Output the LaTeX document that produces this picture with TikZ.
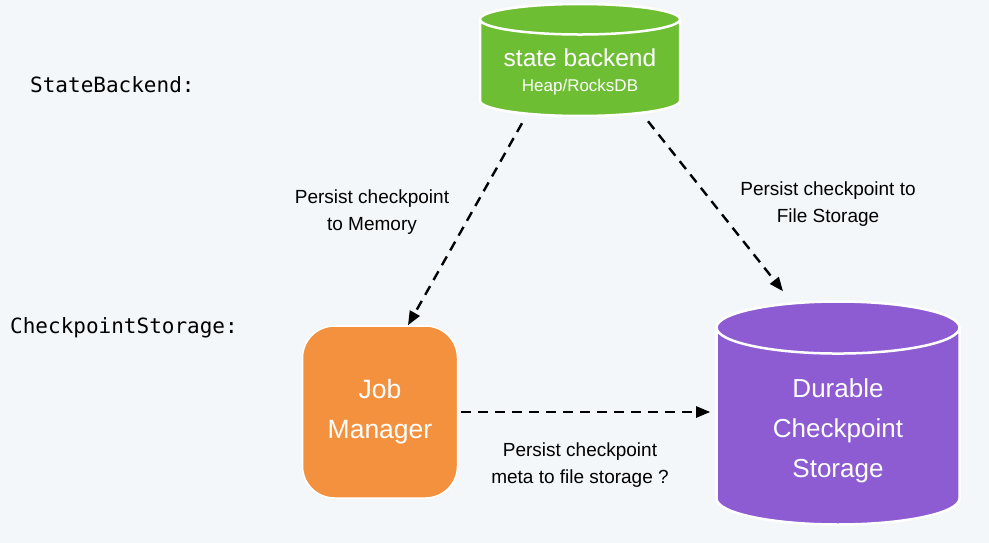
\documentclass[tikz,border=0pt]{standalone}
\usepackage{fontspec}
\setmainfont{Liberation Sans}
\setmonofont{DejaVu Sans Mono}
\usetikzlibrary{shapes.geometric,arrows.meta}

\definecolor{bgcol}{RGB}{244,247,250}
\definecolor{sbgreen}{RGB}{110,190,52}
\definecolor{jmorange}{RGB}{243,145,62}
\definecolor{dcspurple}{RGB}{141,92,210}

\tikzset{
  store/.style={cylinder, shape border rotate=90, cylinder uses custom fill,
    draw=white, line width=2.5pt, text=white, align=center, inner sep=0pt,
    anchor=shape center},
  persist/.style={dashed, dash pattern=on 10pt off 7pt, line width=2.4pt,
    -{Triangle[length=14pt,width=11pt]}},
  note/.style={font=\fontsize{19}{27}\selectfont, align=center},
  layer/.style={font=\ttfamily\fontsize{21}{26}\selectfont, anchor=west, inner sep=0pt}
}

\begin{document}
\begin{tikzpicture}[x=1pt,y=-1pt]
  \def\W{989}
  \def\H{543}
  \fill[bgcol] (0,0) rectangle (\W,\H);
  \useasboundingbox (0,0) rectangle (\W,\H);

  % state backend on top
  \node[store, cylinder body fill=sbgreen, cylinder end fill=sbgreen,
    minimum width=200pt, minimum height=112pt, aspect=0.2] (sb) at (580,60)
    {\fontsize{24.5}{28}\selectfont\rule{0pt}{25pt}state backend\\[11pt]
     \fontsize{17}{20}\selectfont Heap/RocksDB};

  \node[fill=jmorange, draw=white, line width=1.5pt, rounded corners=32pt,
    minimum width=155pt, minimum height=172pt, text=white, align=center,
    font=\fontsize{26.5}{40}\selectfont] (jm) at (380,412) {Job\\Manager};

  \node[store, cylinder body fill=dcspurple, cylinder end fill=dcspurple,
    minimum width=243pt, minimum height=223pt, aspect=0.4,
    font=\fontsize{26}{40}\selectfont] (dcs) at (838,413)
    {\rule{0pt}{27pt}Durable\\Checkpoint\\Storage};

  \node[layer] (lsb) at (30,85) {StateBackend:};
  \node[layer] (lcs) at (10,328) {CheckpointStorage:};

  \draw[persist] ([xshift=-58pt,yshift=-6pt]sb.south) -- ([xshift=28pt]jm.north);
  \draw[persist] ([xshift=68pt,yshift=-4pt]sb.south) -- ([xshift=-55pt,yshift=9pt]dcs.north);
  \draw[persist, shorten <=3pt, shorten >=5pt] (jm.east) -- (jm.east -| dcs.west);

  \node[note] (nmem) at (372,212) {Persist checkpoint\\to Memory};
  \node[note] (nfile) at (828,204) {Persist checkpoint to\\File Storage};
  \node[note] (nmeta) at (580,465) {Persist checkpoint\\meta to file storage ?};

\end{tikzpicture}
\end{document}
